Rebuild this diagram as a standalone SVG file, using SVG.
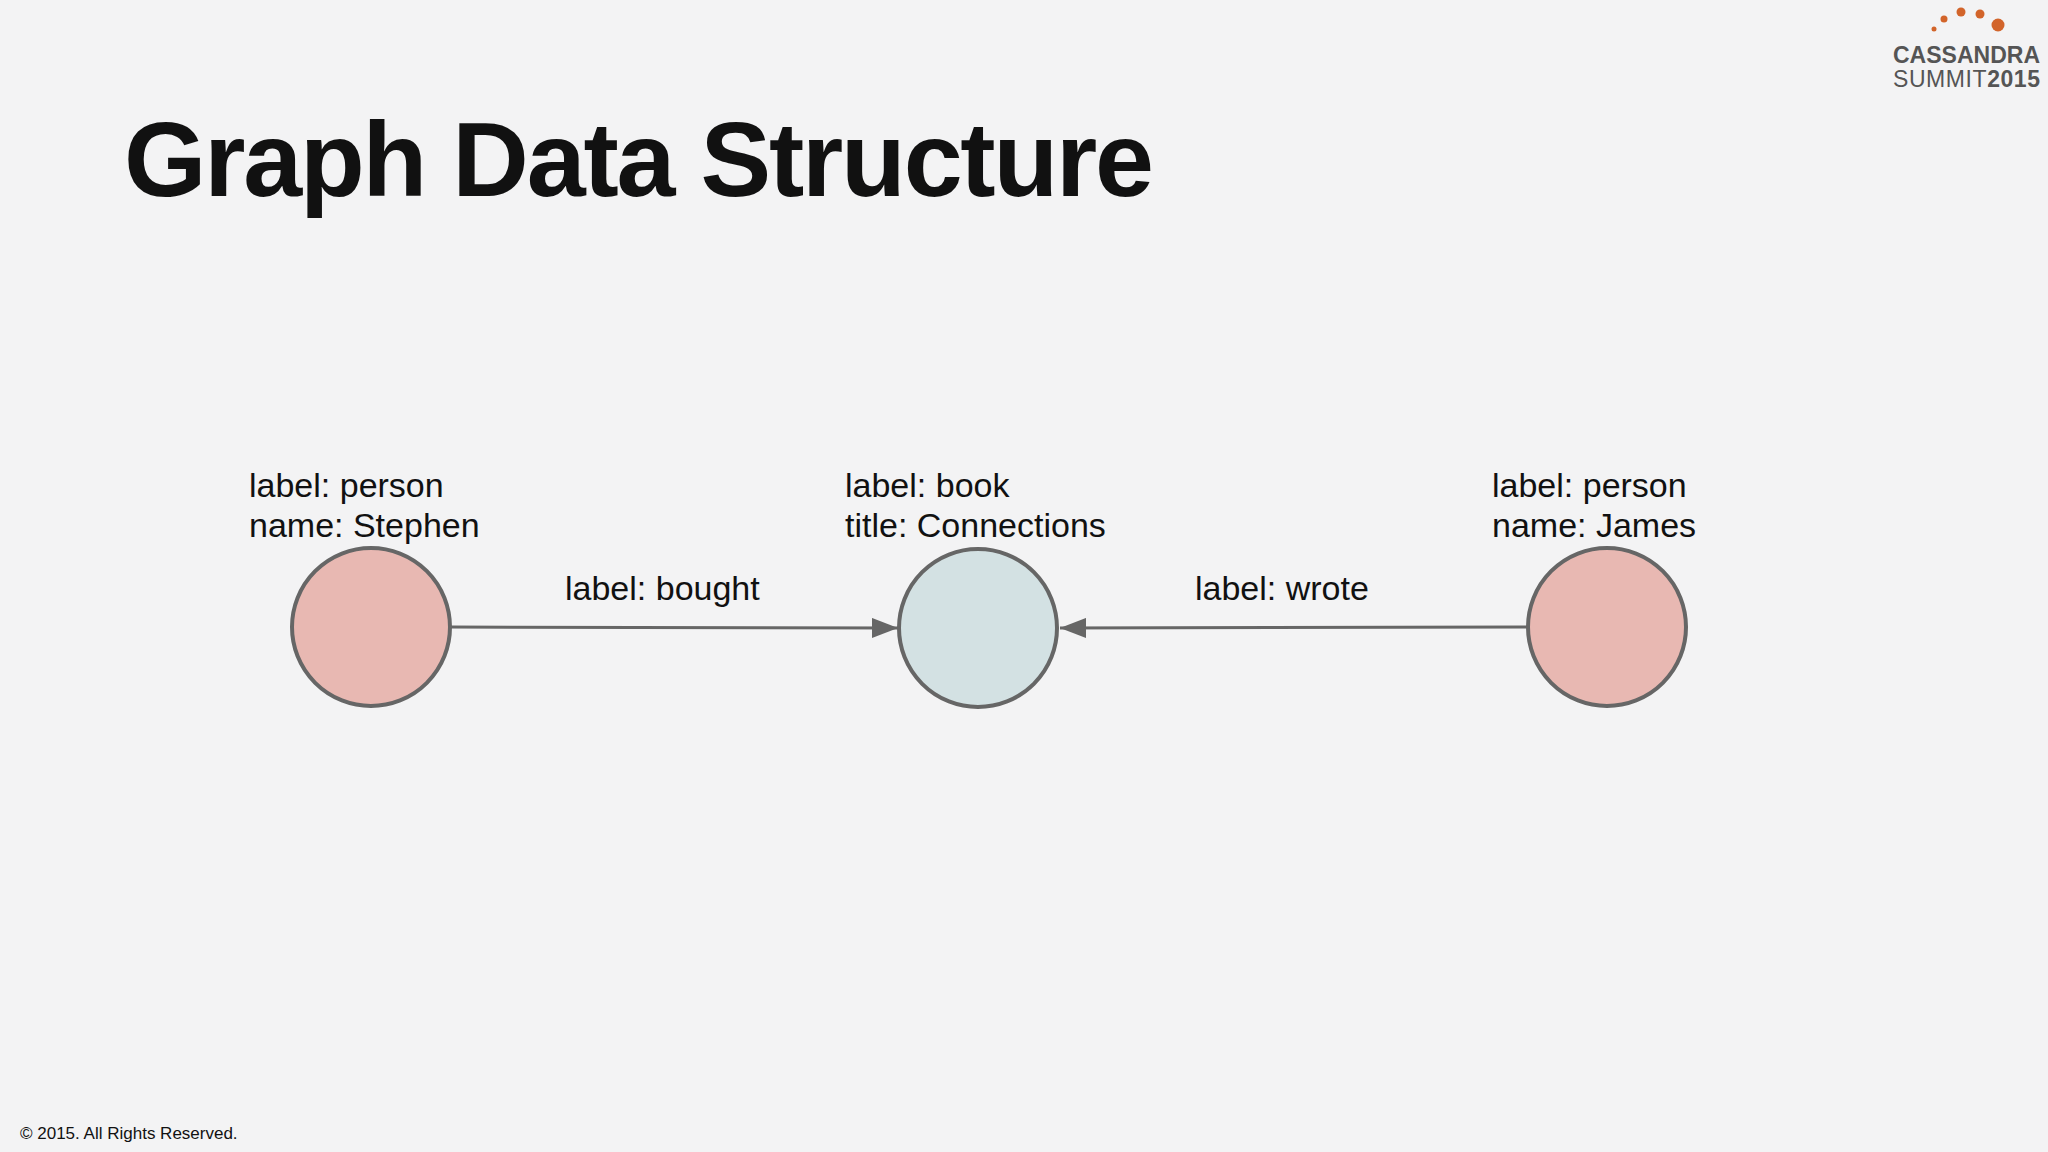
<svg xmlns="http://www.w3.org/2000/svg" width="2048" height="1152" viewBox="0 0 2048 1152">
<style>
text{font-family:"Liberation Sans",Arial,sans-serif;fill:#111}
.t{font-size:34px}
.n{stroke:#666;stroke-width:4}
.e{stroke:#666;stroke-width:3;fill:none}
</style>
<defs><marker id="ah" markerWidth="26" markerHeight="20" refX="26" refY="10" orient="auto" markerUnits="userSpaceOnUse"><path d="M0,0L26,10L0,20z" fill="#666"/></marker></defs>
<rect width="2048" height="1152" fill="#f3f3f4"/>
<text x="124" y="196" font-size="106" font-weight="bold" textLength="1030">Graph Data Structure</text>
<g id="logo">
<circle cx="1934" cy="29" r="2.5" fill="#d2642a"/><circle cx="1944" cy="19" r="3.5" fill="#d2642a"/><circle cx="1961" cy="12" r="4.5" fill="#d2642a"/><circle cx="1980" cy="14" r="4.5" fill="#d2642a"/><circle cx="1998" cy="25" r="6.5" fill="#d2642a"/>
<text x="1893" y="63" font-size="23" font-weight="bold" style="fill:#555" textLength="147">CASSANDRA</text>
<text x="1893" y="87" font-size="23" style="fill:#555" textLength="147">SUMMIT<tspan font-weight="bold">2015</tspan></text>
</g>
<g id="connectors">
<line class="e" x1="451" y1="627" x2="898" y2="628" marker-end="url(#ah)"/>
<line class="e" x1="1527" y1="627" x2="1060" y2="628" marker-end="url(#ah)"/>
<text class="t" x="565" y="600">label: bought</text>
<text class="t" x="1195" y="600">label: wrote</text>
</g>
<g id="stephen"><circle class="n" cx="371" cy="627" r="79" fill="#e8b8b2"/><text class="t" x="249" y="497">label: person</text><text class="t" x="249" y="537">name: Stephen</text></g>
<g id="book"><circle class="n" cx="978" cy="628" r="79" fill="#d3e1e3"/><text class="t" x="845" y="497">label: book</text><text class="t" x="845" y="537">title: Connections</text></g>
<g id="james"><circle class="n" cx="1607" cy="627" r="79" fill="#e8b8b2"/><text class="t" x="1492" y="497">label: person</text><text class="t" x="1492" y="537">name: James</text></g>
<text x="20" y="1139" font-size="17">© 2015. All Rights Reserved.</text>
</svg>
